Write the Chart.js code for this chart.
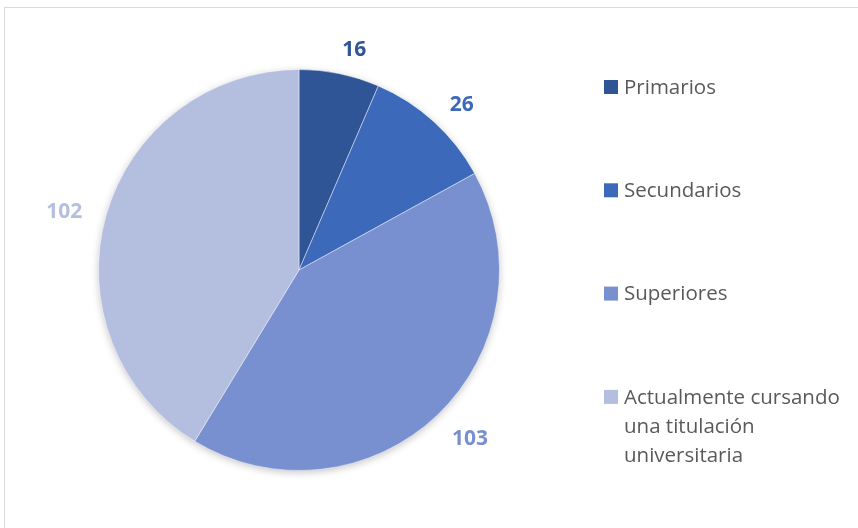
<!DOCTYPE html>
<html>
<head>
<meta charset="utf-8">
<script src="https://cdn.jsdelivr.net/npm/chart.js@4"></script>
<style>
  html, body { margin: 0; padding: 0; background: #fff; overflow: hidden; }
  #wrap { position: relative; width: 858px; height: 528px; }
  #frame { position: absolute; left: 4px; top: 7px; width: 900px; height: 600px; border: 1px solid #d9d9d9; }
  #chart { position: absolute; left: 0; top: 0; }
</style>
</head>
<body>
<div id="wrap">
  <div id="frame"></div>
  <canvas id="chart" width="858" height="528"></canvas>
</div>
<script>
const categories = ['Primarios', 'Secundarios', 'Superiores', 'Actualmente cursando una titulación universitaria'];
const legendLines = [['Primarios'], ['Secundarios'], ['Superiores'], ['Actualmente cursando', 'una titulación', 'universitaria']];
const values = [16, 26, 103, 102];
const colors = ['#2f5597', '#3d69ba', '#7890d0', '#b4bedf'];

const FONT = '"Open Sans", sans-serif';

// soft shadow under the whole pie
const pieShadow = {
    id: 'pieShadow',
    beforeDatasetsDraw(chart) {
        const arc = chart.getDatasetMeta(0).data[0];
        if (!arc) return;
        const { x, y, outerRadius } = arc.getProps(['x', 'y', 'outerRadius'], true);
        const ctx = chart.ctx;
        ctx.save();
        ctx.shadowColor = 'rgba(0,0,0,0.28)';
        ctx.shadowBlur = 9;
        ctx.shadowOffsetY = 2;
        ctx.beginPath();
        ctx.arc(x, y, outerRadius - 1, 0, Math.PI * 2);
        ctx.fillStyle = '#b4bedf';
        ctx.fill();
        ctx.restore();
    }
};

// value labels just outside each slice, box pushed out from the edge point
const outerLabels = {
    id: 'outerLabels',
    afterDatasetsDraw(chart) {
        const ctx = chart.ctx;
        const meta = chart.getDatasetMeta(0);
        ctx.save();
        ctx.font = 'bold 21px ' + FONT;
        ctx.textAlign = 'center';
        ctx.textBaseline = 'middle';
        meta.data.forEach((arc, i) => {
            const p = arc.getProps(['x', 'y', 'startAngle', 'endAngle', 'outerRadius'], true);
            const mid = (p.startAngle + p.endAngle) / 2;
            const c = Math.cos(mid), s = Math.sin(mid);
            const text = String(values[i]);
            const w = ctx.measureText(text).width, h = 24;
            const r = p.outerRadius + 16;
            const cx = p.x + c * (r + w / 2) + Math.sign(c) * 9;
            const cy = p.y + s * (r + h / 2) + 4;
            ctx.fillStyle = colors[i];
            ctx.fillText(text, cx, cy);
        });
        ctx.restore();
    }
};

// legend on the right, one entry per slice
const sideLegend = {
    id: 'sideLegend',
    afterDraw(chart) {
        const ctx = chart.ctx;
        const left = 604, box = 14, rowGap = 103.3, lineH = 29;
        let top = 87;
        ctx.save();
        ctx.font = '20.5px ' + FONT;
        ctx.textBaseline = 'middle';
        ctx.textAlign = 'left';
        legendLines.forEach((lines, i) => {
            const cy = top + i * rowGap;
            ctx.fillStyle = colors[i];
            ctx.fillRect(left, cy - box / 2, box, box);
            ctx.fillStyle = '#595959';
            lines.forEach((t, k) => ctx.fillText(t, left + 20, cy + 1 + k * lineH));
        });
        ctx.restore();
    }
};

new Chart(document.getElementById('chart'), {
    type: 'pie',
    data: {
        labels: categories,
        datasets: [{
            data: values,
            backgroundColor: colors,
            borderColor: 'rgba(255,255,255,0.45)',
            borderWidth: 1
        }]
    },
    options: {
        responsive: false,
        animation: false,
        layout: { padding: { left: 98, right: 358, top: 69, bottom: 57 } },
        plugins: {
            legend: { display: false },
            tooltip: { enabled: false }
        }
    },
    plugins: [pieShadow, outerLabels, sideLegend]
});
</script>
</body>
</html>
